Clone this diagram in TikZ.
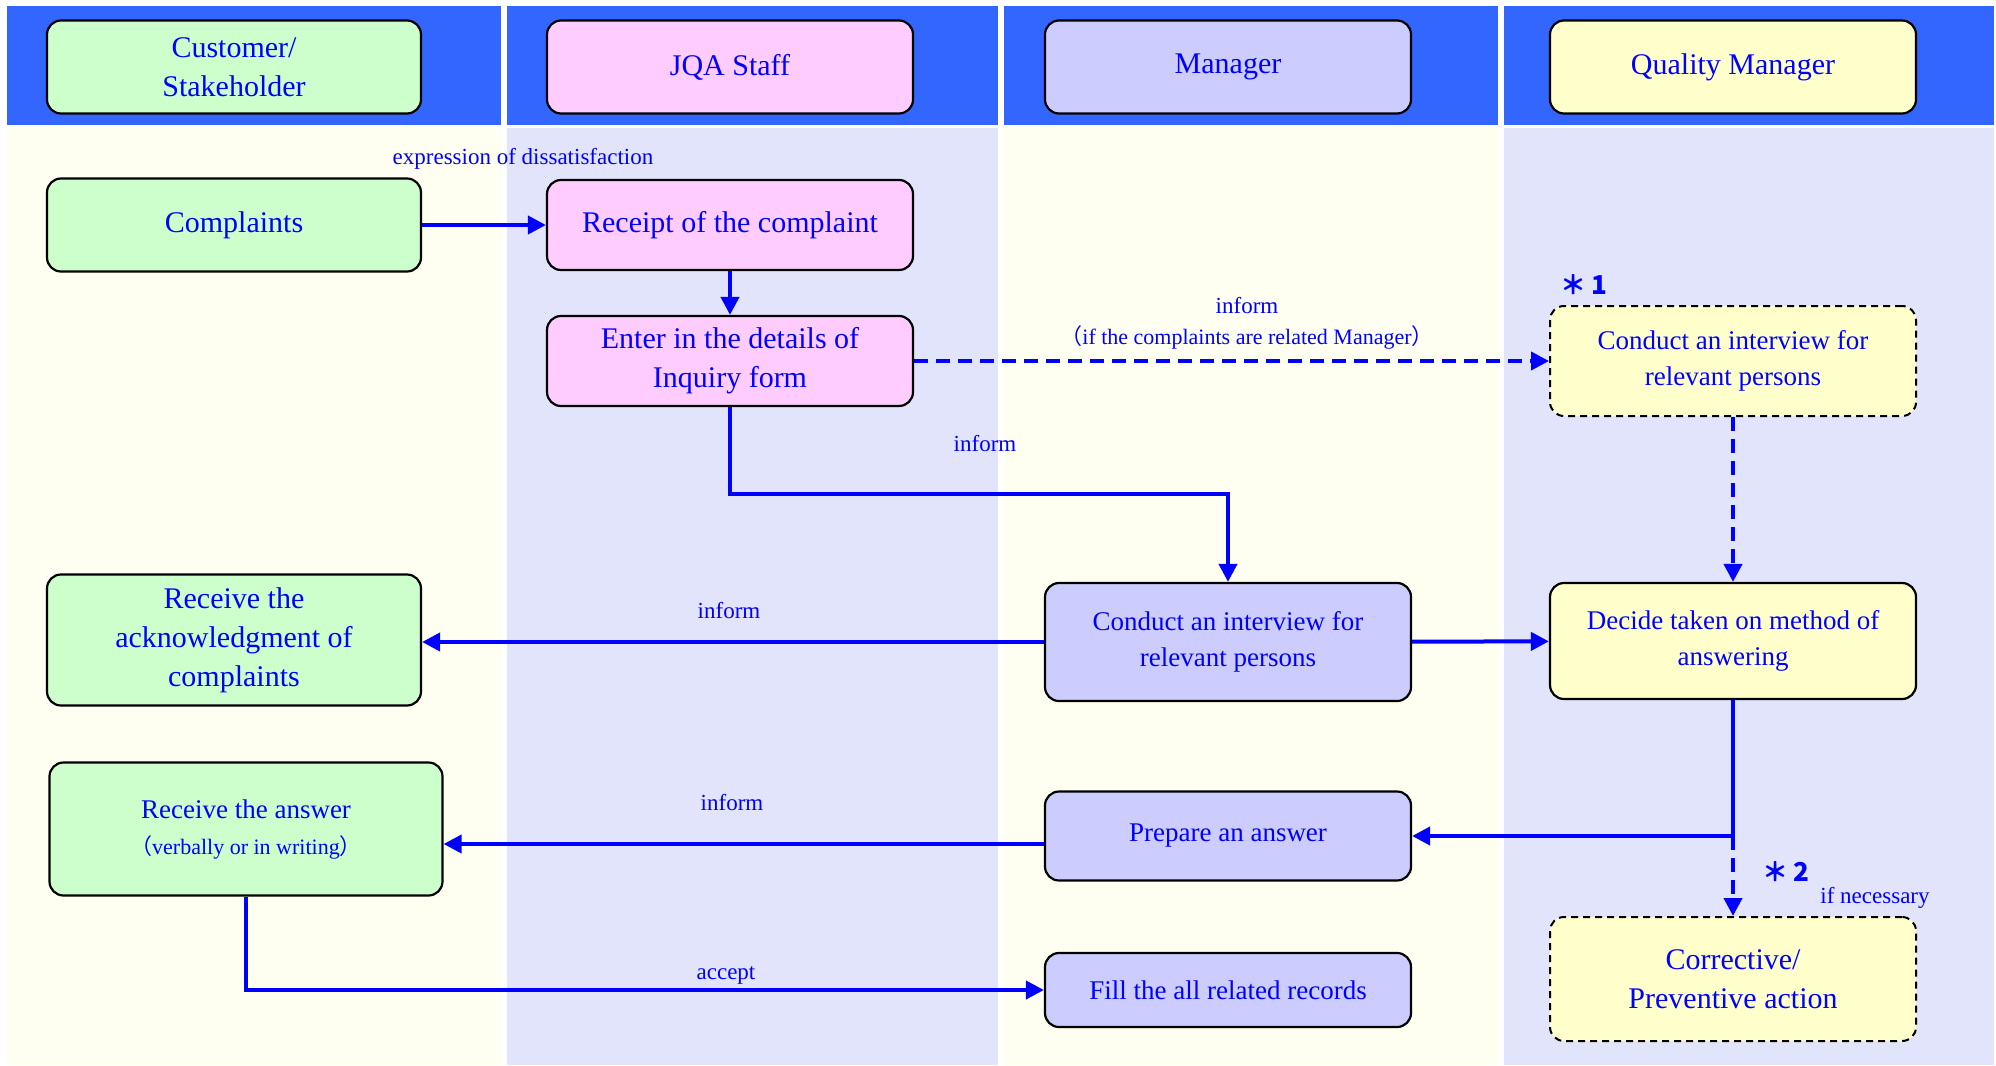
\documentclass[tikz,border=0pt]{standalone}
\usepackage{fontspec}
\setmainfont{Liberation Serif}
\newfontfamily\cjk{Noto Sans CJK JP}
\usetikzlibrary{arrows.meta}
\definecolor{hdblue}{RGB}{51,102,255}
\definecolor{laneY}{RGB}{254,255,240}
\definecolor{laneB}{RGB}{226,228,251}
\definecolor{fgreen}{RGB}{204,255,204}
\definecolor{fpink}{RGB}{255,204,255}
\definecolor{fviolet}{RGB}{204,204,255}
\definecolor{fyellow}{RGB}{255,255,204}
\definecolor{ink}{RGB}{0,0,255}

\begin{document}
\begin{tikzpicture}[x=1pt, y=-1pt, >={Triangle[length=18pt,width=18pt]},
  box/.style={draw=black, line width=2.2pt, rounded corners=14pt, text=ink, align=center,
    minimum width=366pt, inner sep=0pt, font=\fontsize{30}{39}\selectfont},
  small/.style={font=\fontsize{27}{36}\selectfont},
  dbox/.style={line width=2pt, dash pattern=on 7pt off 5pt},
  lbl/.style={text=ink, inner sep=0pt, font=\fontsize{23}{30}\selectfont},
  note/.style={text=ink, inner sep=0pt, font=\cjk\bfseries\fontsize{26}{30}\selectfont},
  flow/.style={ink, line width=4pt},
  dflow/.style={ink, line width=4pt, dash pattern=on 14pt off 8pt}]
\useasboundingbox (0,0) rectangle (1996,1065);
% lanes
\fill[hdblue] (7,6) rectangle (501,125);
\fill[hdblue] (507,6) rectangle (998,125);
\fill[hdblue] (1004,6) rectangle (1498,125);
\fill[hdblue] (1504,6) rectangle (1994,125);
\fill[laneY] (7,128) rectangle (501,1065);
\fill[laneB] (507,128) rectangle (998,1065);
\fill[laneY] (1004,128) rectangle (1498,1065);
\fill[laneB] (1504,128) rectangle (1994,1065);
% headers
\node (cu) at (234,67) [box, fill=fgreen, minimum width=374pt, minimum height=93pt] {Customer/\\Stakeholder};
\node (st) at (730,67) [box, fill=fpink, minimum height=93pt] {JQA Staff};
\node (mg) at (1228,67) [box, fill=fviolet, minimum height=93pt] {Manager};
\node (qm) at (1733,67) [box, fill=fyellow, minimum height=93pt] {Quality Manager};
% steps
\node (cpl) at (234,225) [box, fill=fgreen, minimum width=374pt, minimum height=93pt] {Complaints};
\node (rcp) at (730,225) [box, fill=fpink, minimum height=90pt] {Receipt of the complaint};
\node (ent) at (730,361) [box, fill=fpink, minimum height=90pt] {Enter in the details of\\Inquiry form};
\node (qint) at (1733,361) [box, dbox, fill=fyellow, minimum height=110pt, small] {Conduct an interview for\\relevant persons};
\node (mint) at (1228,642) [box, fill=fviolet, minimum height=118pt, small] {Conduct an interview for\\relevant persons};
\node (ack) at (234,640) [box, fill=fgreen, minimum width=374pt, minimum height=131pt] {Receive the\\acknowledgment of\\complaints};
\node (dec) at (1733,641) [box, fill=fyellow, minimum height=116pt, small] {Decide taken on method of\\answering};
\node (ans) at (246,829) [box, fill=fgreen, minimum width=393pt, minimum height=133pt, small] {Receive the answer\\{\fontsize{22}{30}\selectfont{\cjk （}verbally or in writing{\cjk ）}}};
\node (prep) at (1228,836) [box, fill=fviolet, minimum height=89pt, small] {Prepare an answer};
\node (rec) at (1228,990) [box, fill=fviolet, minimum height=74pt, small] {Fill the all related records};
\node (cor) at (1733,979) [box, dbox, fill=fyellow, minimum height=124pt] {Corrective/\\Preventive action};
% connectors
\coordinate (jn) at (1733,836);
\draw[->, flow] (cpl) -- (rcp);
\draw[->, flow] (rcp) -- (ent);
\draw[->, dflow] (ent) -- (qint);
\draw[->, flow] (ent.south) -- ++(0,87) -| (mint.north);
\draw[->, dflow] (qint) -- (dec);
\draw[->, flow] (mint.west) -- (mint.west -| ack.east);
\draw[->, flow] (mint) -- (dec);
\draw[->, flow] (dec.south) -- (jn) -- (prep.east);
\draw[->, dflow] (jn) -- (cor.north);
\draw[->, flow] ([yshift=-8pt]prep.west) -- ([yshift=-8pt]prep.west -| ans.east);
\draw[->, flow] (ans.south) |- (rec.west);
% labels
\node (l1) at (523,159) [lbl] {expression of dissatisfaction};
\node (l2) at (1247,306) [lbl] {inform};
\node (l3) at (1247,337) [lbl, font=\fontsize{22}{30}\selectfont] {{\cjk （}if the complaints are related Manager{\cjk ）}};
\node (l4) at (985,444) [lbl] {inform};
\node (l5) at (729,611) [lbl] {inform};
\node (l6) at (732,803) [lbl] {inform};
\node (l7) at (726,975) [lbl] {accept};
\node (n1) at (1584,285) [note] {＊\,1};
\node (n2) at (1786,872) [note] {＊\,2};
\node (l8) at (1875,898) [lbl] {if necessary};
\end{tikzpicture}
\end{document}
